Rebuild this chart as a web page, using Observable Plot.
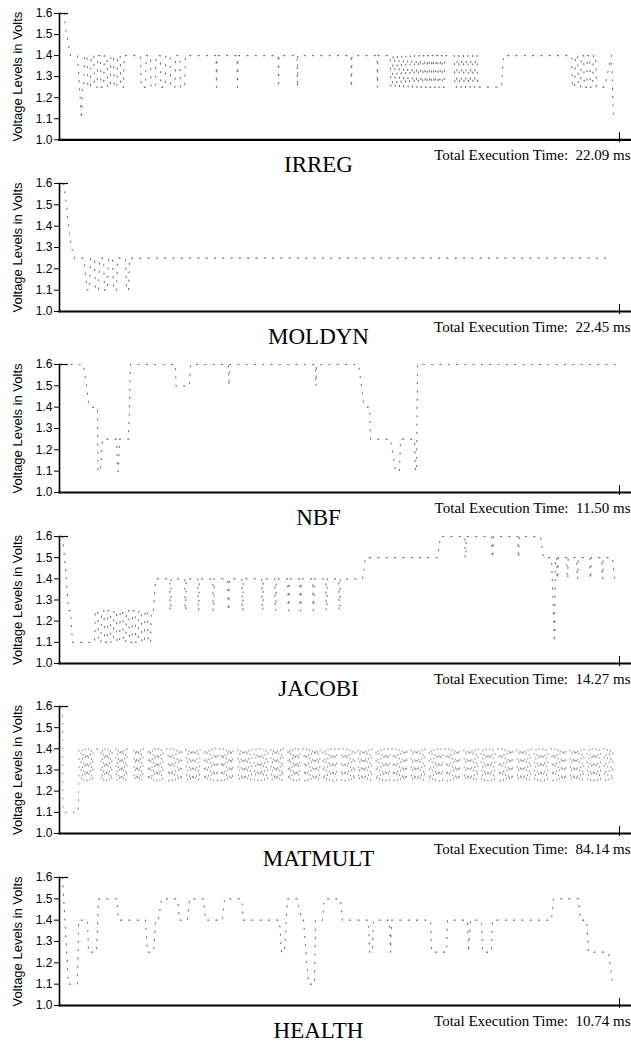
<!DOCTYPE html>
<html>
<head>
<meta charset="utf-8">
<script src="https://cdn.jsdelivr.net/npm/d3@7"></script>
<script src="https://cdn.jsdelivr.net/npm/@observablehq/plot@0.6"></script>
<style>
  html, body { margin: 0; padding: 0; background: #fff; }
  #root { position: relative; width: 631px; height: 1041px; background: #fff; overflow: hidden; }
  .panel { position: absolute; left: 0; }
</style>
</head>
<body>
<div id="root"></div>
<script>
// ---------------- DATA ----------------
// Time is given as % of the benchmark's total execution time (0..100), voltage in volts.
const benchmarks = ["IRREG", "MOLDYN", "NBF", "JACOBI", "MATMULT", "HEALTH"];
const totalTimes = ["22.09", "22.45", "11.50", "14.27", "84.14", "10.74"];
const yTicks = [1.0, 1.1, 1.2, 1.3, 1.4, 1.5, 1.6];

// bursts: [start %, end %, first level, second level, number of switches]
const irregT = [0.45, 0.90, 1.61, 2.87, 3.58, 3.76, 13.80, 22.58, 68.82, 70.25, 74.73, 78.85, 79.21, 91.22, 96.06, 97.31, 98.57, 98.75, 98.92];
const irregV = [1.6, 1.5, 1.4, 1.4, 1.1, 1.25, 1.4, 1.4, 1.4, 1.4, 1.25, 1.25, 1.4, 1.4, 1.25, 1.25, 1.4, 1.25, 1.1];
const irregBursts = [
  [3.76, 11.47, 1.25, 1.4, 13],
  [13.80, 22.58, 1.4, 1.25, 10],
  [27.68, 27.88, 1.4, 1.25, 2],
  [31.44, 31.64, 1.4, 1.25, 2],
  [38.79, 38.99, 1.4, 1.25, 2],
  [42.19, 42.39, 1.4, 1.25, 2],
  [51.87, 52.07, 1.4, 1.25, 2],
  [56.53, 56.73, 1.4, 1.25, 2],
  [58.78, 68.82, 1.4, 1.25, 26],
  [70.25, 74.73, 1.4, 1.25, 11],
  [91.22, 96.06, 1.4, 1.25, 9]
];

const moldynT = [0.36, 0.90, 1.25, 1.79, 2.33, 3.94, 4.66, 5.02, 5.20, 5.91, 6.09, 6.63, 6.81, 7.53, 7.71, 8.24, 8.42, 9.14, 9.32, 9.86, 10.04, 11.47, 11.65, 12.01, 12.19, 98.75];
const moldynV = [1.6, 1.5, 1.4, 1.3, 1.25, 1.25, 1.1, 1.1, 1.25, 1.25, 1.1, 1.1, 1.25, 1.25, 1.1, 1.1, 1.25, 1.25, 1.1, 1.1, 1.25, 1.25, 1.1, 1.1, 1.25, 1.25];
const moldynBursts = [];

const nbfT = [0.18, 3.94, 4.48, 4.84, 5.20, 6.45, 6.54, 6.99, 7.35, 9.86, 10.04, 10.22, 10.39, 12.01, 12.37, 20.43, 20.52, 22.94, 23.12, 29.93, 30.02, 30.11, 45.52, 45.61, 45.70, 53.23, 53.76, 54.12, 54.48, 55.20, 55.38, 58.96, 59.86, 60.57, 60.75, 63.26, 63.44, 63.62, 63.80, 99.28];
const nbfV = [1.6, 1.6, 1.5, 1.42, 1.4, 1.4, 1.1, 1.1, 1.25, 1.25, 1.1, 1.1, 1.25, 1.25, 1.6, 1.6, 1.5, 1.5, 1.6, 1.6, 1.5, 1.6, 1.6, 1.5, 1.6, 1.6, 1.5, 1.42, 1.4, 1.4, 1.25, 1.25, 1.1, 1.1, 1.25, 1.25, 1.1, 1.1, 1.6, 1.6];
const nbfBursts = [];

const jacobiT = [0.18, 0.72, 1.25, 1.61, 1.97, 5.20, 16.49, 16.85, 53.94, 54.48, 67.38, 67.92, 85.84, 86.38, 87.81, 88.35, 88.53, 98.75, 99.10];
const jacobiV = [1.6, 1.45, 1.25, 1.25, 1.1, 1.1, 1.25, 1.4, 1.4, 1.5, 1.5, 1.6, 1.6, 1.5, 1.5, 1.1, 1.5, 1.5, 1.4];
const jacobiBursts = [
  [5.73, 16.31, 1.1, 1.25, 19],
  [19.35, 19.71, 1.4, 1.25, 2], [22.04, 22.40, 1.4, 1.25, 2], [24.37, 24.73, 1.4, 1.25, 2],
  [27.06, 27.42, 1.4, 1.25, 2], [29.75, 30.11, 1.4, 1.25, 2], [32.26, 32.62, 1.4, 1.25, 2],
  [35.84, 36.20, 1.4, 1.25, 2], [38.17, 38.53, 1.4, 1.25, 2], [40.50, 40.86, 1.4, 1.25, 2],
  [42.65, 43.01, 1.4, 1.25, 2], [44.98, 45.34, 1.4, 1.25, 2], [47.31, 47.67, 1.4, 1.25, 2],
  [49.64, 50.00, 1.4, 1.25, 2],
  [72.22, 72.58, 1.6, 1.5, 2], [77.06, 77.42, 1.6, 1.5, 2], [81.72, 82.08, 1.6, 1.5, 2],
  [88.71, 89.07, 1.5, 1.4, 2], [90.50, 90.86, 1.5, 1.4, 2], [92.29, 92.65, 1.5, 1.4, 2],
  [94.62, 94.98, 1.5, 1.4, 2], [96.77, 97.13, 1.5, 1.4, 2]
];

const matmultT = [0.18, 0.27, 3.05, 3.14, 98.92];
const matmultV = [1.6, 1.1, 1.1, 1.4, 1.4];
const matmultBursts = [
  [3.41, 5.73, 1.4, 1.25, 10], [6.99, 9.14, 1.4, 1.25, 10], [9.68, 11.83, 1.4, 1.25, 10],
  [12.90, 14.70, 1.4, 1.25, 8], [15.41, 18.28, 1.4, 1.25, 12], [19.00, 21.68, 1.4, 1.25, 10],
  [22.22, 24.91, 1.4, 1.25, 10], [25.45, 28.14, 1.4, 1.25, 10], [28.49, 30.82, 1.4, 1.25, 10],
  [31.54, 34.23, 1.4, 1.25, 10], [34.41, 37.10, 1.4, 1.25, 10], [37.46, 39.78, 1.4, 1.25, 10],
  [40.50, 42.83, 1.4, 1.25, 10], [43.37, 46.42, 1.4, 1.25, 12], [46.77, 49.46, 1.4, 1.25, 10],
  [50.00, 52.69, 1.4, 1.25, 10], [53.05, 55.73, 1.4, 1.25, 10], [56.27, 58.96, 1.4, 1.25, 10],
  [59.32, 62.01, 1.4, 1.25, 10], [62.54, 65.23, 1.4, 1.25, 10], [65.77, 68.46, 1.4, 1.25, 10],
  [68.82, 71.51, 1.4, 1.25, 10], [72.04, 74.73, 1.4, 1.25, 10], [75.09, 77.78, 1.4, 1.25, 10],
  [78.32, 81.00, 1.4, 1.25, 10], [81.54, 84.23, 1.4, 1.25, 10], [84.59, 87.28, 1.4, 1.25, 10],
  [87.81, 90.50, 1.4, 1.25, 10], [91.04, 93.73, 1.4, 1.25, 10], [94.09, 96.77, 1.4, 1.25, 10],
  [97.13, 98.92, 1.4, 1.25, 6]
];

const healthT = [0.18, 1.25, 2.87, 3.05, 4.66, 4.84, 6.27, 6.63, 9.86, 10.22, 15.05, 15.41, 16.49, 16.85, 17.38, 17.92, 20.79, 21.15, 22.58, 22.94, 25.45, 25.81, 28.85, 29.21, 32.26, 32.62, 39.07, 39.43, 39.96, 40.50, 42.29, 43.01, 43.37, 44.27, 45.34, 45.52, 46.77, 47.13, 50.00, 50.36, 55.02, 55.20, 55.73, 55.91, 58.78, 58.96, 59.14, 66.13, 66.31, 69.00, 69.18, 72.76, 72.94, 73.30, 75.27, 75.45, 77.06, 77.24, 87.81, 88.17, 92.65, 93.01, 94.09, 94.44, 98.03, 98.75];
const healthV = [1.6, 1.1, 1.1, 1.4, 1.4, 1.25, 1.25, 1.5, 1.5, 1.4, 1.4, 1.25, 1.25, 1.4, 1.4, 1.5, 1.5, 1.4, 1.4, 1.5, 1.5, 1.4, 1.4, 1.5, 1.5, 1.4, 1.4, 1.25, 1.25, 1.5, 1.5, 1.4, 1.4, 1.1, 1.1, 1.4, 1.4, 1.5, 1.5, 1.4, 1.4, 1.25, 1.25, 1.4, 1.4, 1.25, 1.4, 1.4, 1.25, 1.25, 1.4, 1.4, 1.25, 1.4, 1.4, 1.25, 1.25, 1.4, 1.4, 1.5, 1.5, 1.4, 1.4, 1.25, 1.25, 1.1];
const healthBursts = [];

const seriesT = [irregT, moldynT, nbfT, jacobiT, matmultT, healthT];
const seriesV = [irregV, moldynV, nbfV, jacobiV, matmultV, healthV];
const seriesBursts = [irregBursts, moldynBursts, nbfBursts, jacobiBursts, matmultBursts, healthBursts];

// ---------------- LAYOUT / STYLE ----------------
// [svg top in page px, frame height px]
const layout = [[2.7, 126.3], [173, 128], [354, 128], [525.7, 127], [696, 127], [867, 128]];
const lineColor = ["#6a6a6a", "#6a6a6a", "#6a6a6a", "#6a6a6a", "#9a9a9a", "#6a6a6a"];
const W = 631, MT = 10, MB = 38, ML = 59;

// Build the point list: key points + switching bursts
function buildSeries(T, V, bursts) {
  const pts = T.map((t, i) => ({t, v: V[i], k: i}));
  let k = T.length;
  for (const [p0, p1, a, b, n] of bursts) {
    const step = (p1 - p0) / n;
    const eps = Math.min(0.06, step * 0.2);
    let cur = a, nxt = b;
    pts.push({t: p0, v: a, k: k++});
    for (let i = 0; i < n; i++) {
      const s = p0 + (i + 0.5) * step;
      pts.push({t: s - eps, v: cur, k: k++});
      pts.push({t: s + eps, v: nxt, k: k++});
      [cur, nxt] = [nxt, cur];
    }
    pts.push({t: p1, v: cur, k: k++});
  }
  pts.sort((p, q) => (p.t - q.t) || (p.k - q.k));
  return pts;
}

const root = document.getElementById("root");
benchmarks.forEach((name, i) => {
  const [top, fh] = layout[i];
  const data = buildSeries(seriesT[i], seriesV[i], seriesBursts[i]);
  const chart = Plot.plot({
    width: W,
    height: MT + fh + MB,
    marginTop: MT, marginBottom: MB, marginLeft: ML, marginRight: 0,
    style: {background: "transparent", fontFamily: "'Liberation Sans', Arial, sans-serif", fontSize: "12px", color: "#000", overflow: "visible"},
    x: {domain: [0, 100], range: [61, 619], axis: null},
    y: {domain: [1.0, 1.6], ticks: yTicks, tickFormat: d => d.toFixed(1), tickSize: 5, tickPadding: 2, label: null},
    marks: [
      Plot.line(data, {x: "t", y: "v", stroke: lineColor[i], strokeWidth: 1.1, strokeDasharray: "1.1,7.2"}),
      Plot.frame({anchor: "left", stroke: "#000", strokeWidth: 1.6}),
      Plot.frame({anchor: "bottom", stroke: "#000", strokeWidth: 2.2}),
      Plot.tickX([100], {insetTop: fh - 7, insetBottom: -3, stroke: "#000", strokeWidth: 1}),
      Plot.tickY([1.6], {insetRight: W - ML - 9, stroke: "#000", strokeWidth: 1.2}),
      Plot.text([name], {text: d => d, frameAnchor: "bottom", dx: -27, dy: 32, lineAnchor: "bottom",
        fontFamily: "'Liberation Serif', 'Times New Roman', serif", fontSize: 23, fill: "#000"}),
      Plot.text(["Total Execution Time:\u00a0\u00a0" + totalTimes[i] + " ms"], {text: d => d, frameAnchor: "bottom-right",
        textAnchor: "end", dx: -1, dy: 20, lineAnchor: "bottom",
        fontFamily: "'Liberation Serif', 'Times New Roman', serif", fontSize: 15, fill: "#000"}),
      Plot.text(["Voltage Levels in Volts"], {text: d => d, frameAnchor: "left", rotate: -90, dx: -42,
        textAnchor: "middle", fontSize: 13, fill: "#000"})
    ]
  });
  const div = document.createElement("div");
  div.className = "panel";
  div.style.top = top + "px";
  div.appendChild(chart);
  root.appendChild(div);
});
</script>
</body>
</html>
